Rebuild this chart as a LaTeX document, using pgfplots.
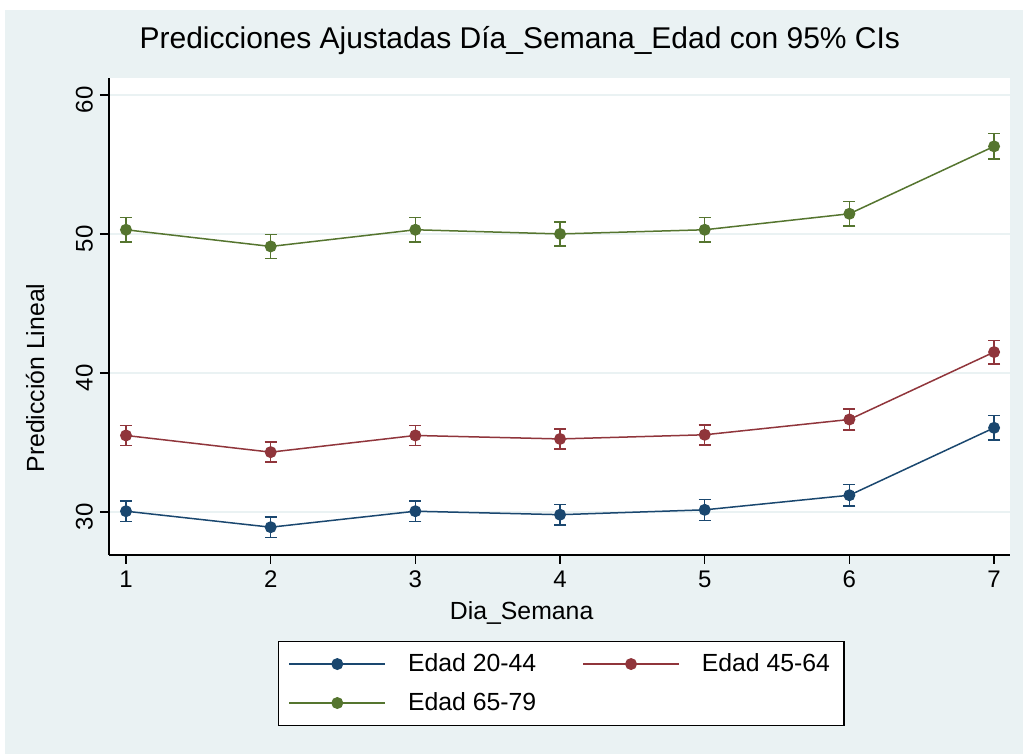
\documentclass[border=0pt]{standalone}
\usepackage{fontspec}
\setmainfont{Liberation Sans}
\usepackage{pgfplots}
\pgfplotsset{compat=1.18}
\usepackage{pgfplotstable}

\definecolor{bgstata}{RGB}{234,242,243}
\definecolor{snavy}{RGB}{26,71,111}
\definecolor{smaroon}{RGB}{144,53,59}
\definecolor{sforest}{RGB}{85,117,47}

% x  y  ci
\pgfplotstableread{
x y e
1 30.05 0.75
2 28.90 0.75
3 30.05 0.75
4 29.80 0.75
5 30.15 0.75
6 31.20 0.78
7 36.05 0.87
}\joven
\pgfplotstableread{
x y e
1 35.50 0.72
2 34.30 0.72
3 35.50 0.72
4 35.25 0.72
5 35.55 0.72
6 36.65 0.75
7 41.50 0.85
}\medio
\pgfplotstableread{
x y e
1 50.30 0.87
2 49.10 0.87
3 50.30 0.87
4 50.00 0.87
5 50.30 0.87
6 51.45 0.87
7 56.30 0.92
}\mayor

\begin{document}
\begin{tikzpicture}
% 1px = 0.5pt, origin at the lower left corner of the plot region
\useasboundingbox (-54.5pt,-99.5pt) rectangle (457pt,277.5pt);
\fill[white] (-54.5pt,-99.5pt) rectangle (457pt,277.5pt);
\fill[bgstata] (-52pt,-99.5pt) rectangle (457pt,272.5pt);
\begin{axis}[
    at={(0pt,0pt)}, anchor=south west,
    scale only axis, width=450.5pt, height=238.5pt,
    xmin=0.8825, xmax=7.11, ymin=26.9, ymax=61.22,
    axis background/.style={fill=white},
    axis x line*=bottom, axis y line*=left,
    axis line style={black, line width=0.7pt},
    tick align=outside, major tick length=4.5pt,
    tick style={black, line width=0.7pt},
    xtick={1,2,3,4,5,6,7}, ytick={30,40,50,60},
    ymajorgrids, grid style={bgstata, line width=1pt},
    /pgf/number format/assume math mode=true,
    title={Predicciones Ajustadas Día\_Semana\_Edad con 95\% CIs},
    title style={at={(0.456,1.053)}, anchor=center, font=\fontsize{15}{17}\selectfont},
    xlabel={Dia\_Semana},
    xlabel style={at={(0.458,-0.1216)}, anchor=center, font=\fontsize{12.4}{14}\selectfont},
    ylabel={Predicción Lineal},
    ylabel style={at={(-0.0821,0.371)}, anchor=center, font=\fontsize{12.4}{14}\selectfont},
    legend columns=2,
    legend style={at={(0.502,-0.180)}, anchor=north, draw=black, line width=0.7pt,
        fill=white, font=\fontsize{12.4}{14}\selectfont,
        inner xsep=5pt, inner ysep=4pt, row sep=5pt,
        column sep=9pt,
        /tikz/every even column/.append style={column sep=21pt}},
    legend cell align=left,
    legend image code/.code={%
        \draw[#1, mark repeat=2, mark phase=2] plot coordinates {(0pt,0pt) (24pt,0pt) (48pt,0pt)};},
    every axis plot/.append style={line width=0.75pt, mark=*, mark size=2.6pt,
        error bars/y dir=both, error bars/y explicit,
        error bars/error mark=|,
        error bars/error mark options={line width=0.75pt, mark size=3pt}},
    every x tick label/.append style={font=\fontsize{12}{14}\selectfont},
    every y tick label/.append style={font=\fontsize{12}{14}\selectfont,
        rotate=90, anchor=south, xshift=-2.5pt},
]
\addplot[snavy, mark options={fill=snavy}, error bars/error bar style={snavy, line width=0.75pt}]
    table[x=x, y=y, y error=e] {\joven};
\addlegendentry{Edad 20-44}
\addplot[smaroon, mark options={fill=smaroon}, error bars/error bar style={smaroon, line width=0.75pt}]
    table[x=x, y=y, y error=e] {\medio};
\addlegendentry{Edad 45-64}
\addplot[sforest, mark options={fill=sforest}, error bars/error bar style={sforest, line width=0.75pt}]
    table[x=x, y=y, y error=e] {\mayor};
\addlegendentry{Edad 65-79}
\end{axis}
\end{tikzpicture}
\end{document}
